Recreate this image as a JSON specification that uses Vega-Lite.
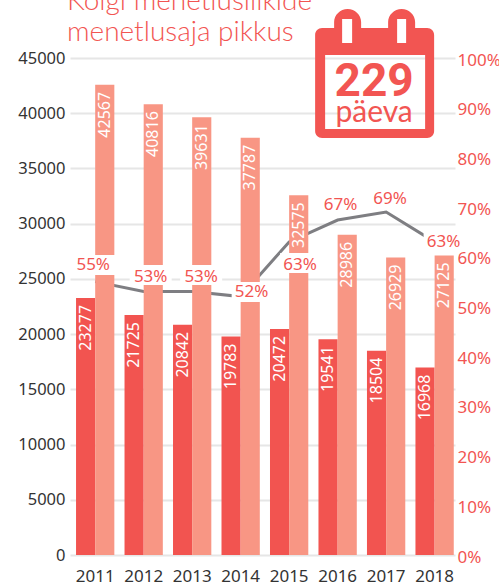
{
"$schema":"https://vega.github.io/schema/vega-lite/v6.json",
"width":385,"height":497,
"autosize":{"type":"none"},
"padding":{"left":70,"top":58,"right":44,"bottom":28},
"background":"white",
"title":{"text":["Kõigi menetlusliikide","menetlusaja pikkus"],"anchor":"start","frame":"group","dx":-3,"offset":-60,"baseline":"alphabetic","font":"Lato","fontWeight":300,"fontSize":28,"lineHeight":31,"color":"#f25552"},
"datasets":{
"bars":[
{"aasta":"2011","sari":"a","arv":23277},{"aasta":"2011","sari":"b","arv":42567},
{"aasta":"2012","sari":"a","arv":21725},{"aasta":"2012","sari":"b","arv":40816},
{"aasta":"2013","sari":"a","arv":20842},{"aasta":"2013","sari":"b","arv":39631},
{"aasta":"2014","sari":"a","arv":19783},{"aasta":"2014","sari":"b","arv":37787},
{"aasta":"2015","sari":"a","arv":20472},{"aasta":"2015","sari":"b","arv":32575},
{"aasta":"2016","sari":"a","arv":19541},{"aasta":"2016","sari":"b","arv":28986},
{"aasta":"2017","sari":"a","arv":18504},{"aasta":"2017","sari":"b","arv":26929},
{"aasta":"2018","sari":"a","arv":16968},{"aasta":"2018","sari":"b","arv":27125}],
"share":[
{"aasta":"2011","osa":0.55},{"aasta":"2012","osa":0.53},{"aasta":"2013","osa":0.53},{"aasta":"2014","osa":0.52},
{"aasta":"2015","osa":0.63},{"aasta":"2016","osa":0.674},{"aasta":"2017","osa":0.69},{"aasta":"2018","osa":0.63}]
},
"encoding":{
"x":{"field":"aasta","type":"nominal","scale":{"paddingInner":0.21,"paddingOuter":0.075,"align":0.83},
"axis":{"title":null,"domain":false,"ticks":false,"labelAngle":0,"labelFont":"Noto Sans","labelFontSize":17,"labelColor":"#333333","labelPadding":13,"grid":false}}
},
"layer":[
{"data":{"name":"share"},"mark":{"type":"line","color":"#7e7e82","strokeWidth":3},
"encoding":{"y":{"field":"osa","type":"quantitative","scale":{"domain":[0,1]},
"axis":{"orient":"right","title":null,"format":".0%","values":[0,0.1,0.2,0.3,0.4,0.5,0.6,0.7,0.8,0.9,1],"domain":false,"ticks":false,"grid":false,"labelFont":"Noto Sans","labelFontSize":17,"labelColor":"#f25552","labelPadding":2,"labelOffset":2,"labelOverlap":false,"labelBound":false}}}},
{"data":{"name":"bars"},"mark":{"type":"bar"},
"encoding":{"xOffset":{"field":"sari","type":"nominal"},
"y":{"field":"arv","type":"quantitative","scale":{"domain":[0,45000]},
"axis":{"orient":"left","title":null,"values":[0,5000,10000,15000,20000,25000,30000,35000,40000,45000],"format":"d","domain":false,"ticks":false,"grid":true,"gridColor":"#e6e6e6","gridWidth":2,"labelFont":"Noto Sans","labelFontSize":16.5,"labelColor":"#333333","labelPadding":5,"labelOverlap":false}},
"color":{"field":"sari","type":"nominal","legend":null,"scale":{"domain":["a","b"],"range":["#f25450","#f89684"]}}}},
{"data":{"name":"bars"},"mark":{"type":"text","angle":270,"align":"right","baseline":"middle","dx":-7,"color":"white","font":"Noto Sans","fontSize":16},
"encoding":{"xOffset":{"field":"sari","type":"nominal"},
"y":{"field":"arv","type":"quantitative","scale":{"domain":[0,45000]},"axis":null},
"text":{"field":"arv","type":"quantitative","format":"d"}}},
{"data":{"name":"share"},"transform":[{"filter":"datum.aasta=='2011'"}],"mark":{"type":"rect","color":"white","width":40,"height":20,"yOffset":-16.6},"encoding":{"y":{"field":"osa","type":"quantitative","scale":{"domain":[0,1]},"axis":null}}},
{"data":{"name":"share"},"transform":[{"filter":"datum.aasta=='2012'"}],"mark":{"type":"rect","color":"white","width":42,"height":20,"xOffset":7,"yOffset":-16.6},"encoding":{"y":{"field":"osa","type":"quantitative","scale":{"domain":[0,1]},"axis":null}}},
{"data":{"name":"share"},"transform":[{"filter":"datum.aasta=='2013'"}],"mark":{"type":"rect","color":"white","width":42,"height":20,"xOffset":9,"yOffset":-16.6},"encoding":{"y":{"field":"osa","type":"quantitative","scale":{"domain":[0,1]},"axis":null}}},
{"data":{"name":"share"},"transform":[{"filter":"datum.aasta=='2014'"}],"mark":{"type":"rect","color":"white","width":40,"height":20,"xOffset":11,"yOffset":-4.6},"encoding":{"y":{"field":"osa","type":"quantitative","scale":{"domain":[0,1]},"axis":null}}},
{"data":{"name":"share"},"transform":[{"filter":"datum.aasta=='2015'"}],"mark":{"type":"rect","color":"white","width":40,"height":20,"xOffset":11,"yOffset":21},"encoding":{"y":{"field":"osa","type":"quantitative","scale":{"domain":[0,1]},"axis":null}}},
{"data":{"name":"share"},"transform":[{"filter":"datum.aasta=='2018'"}],"mark":{"type":"rect","color":"white","width":40,"height":20,"xOffset":9,"yOffset":0},"encoding":{"y":{"field":"osa","type":"quantitative","scale":{"domain":[0,1]},"axis":null}}},
{"data":{"name":"share"},"transform":[{"filter":"datum.aasta=='2011'"}],"mark":{"type":"text","dx":-2,"dy":-16.6,"font":"Noto Sans","fontSize":17,"color":"#f25552"},"encoding":{"y":{"field":"osa","type":"quantitative","scale":{"domain":[0,1]},"axis":null},"text":{"field":"osa","type":"quantitative","format":".0%"}}},
{"data":{"name":"share"},"transform":[{"filter":"datum.aasta=='2012'"}],"mark":{"type":"text","dx":7,"dy":-15,"font":"Noto Sans","fontSize":17,"color":"#f25552"},"encoding":{"y":{"field":"osa","type":"quantitative","scale":{"domain":[0,1]},"axis":null},"text":{"field":"osa","type":"quantitative","format":".0%"}}},
{"data":{"name":"share"},"transform":[{"filter":"datum.aasta=='2013'"}],"mark":{"type":"text","dx":9,"dy":-15,"font":"Noto Sans","fontSize":17,"color":"#f25552"},"encoding":{"y":{"field":"osa","type":"quantitative","scale":{"domain":[0,1]},"axis":null},"text":{"field":"osa","type":"quantitative","format":".0%"}}},
{"data":{"name":"share"},"transform":[{"filter":"datum.aasta=='2014'"}],"mark":{"type":"text","dx":11,"dy":-4.6,"font":"Noto Sans","fontSize":17,"color":"#f25552"},"encoding":{"y":{"field":"osa","type":"quantitative","scale":{"domain":[0,1]},"axis":null},"text":{"field":"osa","type":"quantitative","format":".0%"}}},
{"data":{"name":"share"},"transform":[{"filter":"datum.aasta=='2015'"}],"mark":{"type":"text","dx":11,"dy":23,"font":"Noto Sans","fontSize":17,"color":"#f25552"},"encoding":{"y":{"field":"osa","type":"quantitative","scale":{"domain":[0,1]},"axis":null},"text":{"field":"osa","type":"quantitative","format":".0%"}}},
{"data":{"name":"share"},"transform":[{"filter":"datum.aasta=='2016'"}],"mark":{"type":"text","dx":3,"dy":-15,"font":"Noto Sans","fontSize":17,"color":"#f25552"},"encoding":{"y":{"field":"osa","type":"quantitative","scale":{"domain":[0,1]},"axis":null},"text":{"field":"osa","type":"quantitative","format":".0%"}}},
{"data":{"name":"share"},"transform":[{"filter":"datum.aasta=='2017'"}],"mark":{"type":"text","dx":4,"dy":-13,"font":"Noto Sans","fontSize":17,"color":"#f25552"},"encoding":{"y":{"field":"osa","type":"quantitative","scale":{"domain":[0,1]},"axis":null},"text":{"field":"osa","type":"quantitative","format":".0%"}}},
{"data":{"name":"share"},"transform":[{"filter":"datum.aasta=='2018'"}],"mark":{"type":"text","dx":9,"dy":0,"font":"Noto Sans","fontSize":17,"color":"#f25552"},"encoding":{"y":{"field":"osa","type":"quantitative","scale":{"domain":[0,1]},"axis":null},"text":{"field":"osa","type":"quantitative","format":".0%"}}},
{"data":{"values":[{"aasta":"2017","päevi":43640}]},
"mark":{"type":"point","filled":true,"opacity":1,"size":4,"strokeWidth":0,"color":"#f25552",
"shape":"M-64,-45 H-52 V-51 C-52,-58 -46,-64 -38.5,-64 C-31,-64 -25,-58 -25,-51 V-45 H2 V-51 C2,-58 8,-64 15.5,-64 C23,-64 29,-58 29,-51 V-45 H41 C45,-45 48,-42 48,-38 V58 C48,62 45,65 41,65 H-64 C-68,65 -71,62 -71,58 V-38 C-71,-42 -68,-45 -64,-45 Z M-61,-18 V56 H39 V-18 Z M-44,-54 V-30 H-34 V-54 Z M11,-54 V-30 H20 V-54 Z"},
"encoding":{"y":{"field":"päevi","type":"quantitative","scale":{"domain":[0,45000]},"axis":null}}},
{"data":{"values":[{"aasta":"2017","päevi":43640,"silt":"229"}]},
"mark":{"type":"text","dx":-12,"dy":23,"baseline":"alphabetic","font":"Roboto","fontWeight":"bold","fontSize":46,"color":"#f25552"},
"encoding":{"y":{"field":"päevi","type":"quantitative","scale":{"domain":[0,45000]},"axis":null},"text":{"field":"silt"}}},
{"data":{"values":[{"aasta":"2017","päevi":43640,"silt":"päeva"}]},
"mark":{"type":"text","dx":-12,"dy":49,"baseline":"alphabetic","font":"Lato","fontSize":30,"color":"#f25552"},
"encoding":{"y":{"field":"päevi","type":"quantitative","scale":{"domain":[0,45000]},"axis":null},"text":{"field":"silt"}}}
],
"resolve":{"scale":{"y":"independent"}},
"config":{"view":{"stroke":null}}
}
